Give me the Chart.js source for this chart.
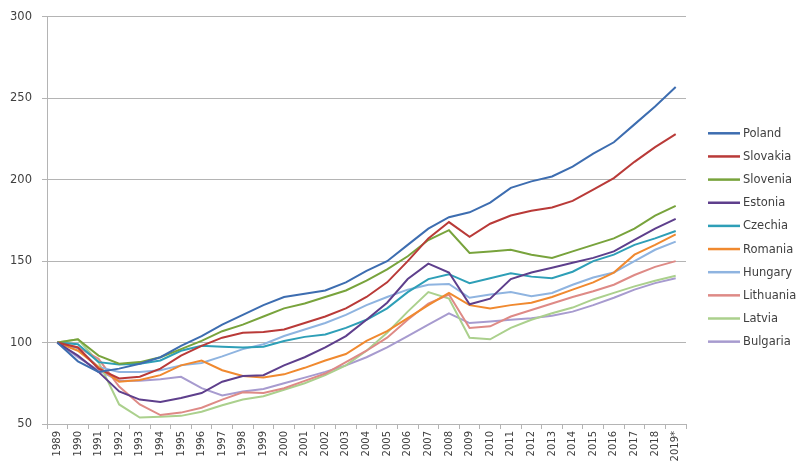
<!DOCTYPE html>
<html>
<head>
<meta charset="utf-8">
<script src="https://cdn.jsdelivr.net/npm/chart.js@4/dist/chart.umd.min.js"></script>
<style>
  html, body { margin: 0; padding: 0; background: #ffffff; }
  #wrap { width: 801px; height: 464px; position: relative; }
</style>
</head>
<body>
<div id="wrap"><canvas id="c" width="801" height="464"></canvas></div>
<script>
const years = ['1989','1990','1991','1992','1993','1994','1995','1996','1997','1998','1999','2000','2001','2002','2003','2004','2005','2006','2007','2008','2009','2010','2011','2012','2013','2014','2015','2016','2017','2018','2019*'];
const yTicks = [50, 100, 150, 200, 250, 300];
const countries = ['Poland','Slovakia','Slovenia','Estonia','Czechia','Romania','Hungary','Lithuania','Latvia','Bulgaria'];

const poland    = [100,88.5,82,84,87,91,98,104,111,117,123,128,130,132,137,144,150,160,170,177,180,186,195,199,202,208,216,223,234,245,257];
const slovakia  = [100,97,84,78,79,84,92,98,103,106,106.5,108,112,116,121,128,137,150,164,174,165,173,178,181,183,187,194,201,211,220,228];
const slovenia  = [100,102,92,87,88,91,96,101,107,111,116,121,124,128,132,138,145,153,163,169,155,156,157,154,152,156,160,164,170,178,184];
const estonia   = [100,92,82,70,65,63.5,66,69,76,79.5,80,86,91,97,104,114,124.5,139,148.5,143,123.5,127,139,143,146,149,152,156,163,170,176];
const czechia   = [100,99,88,86.5,87,89,95,98,97.5,97,97.5,101,103.5,105,109,114,121,131,139,142,136.5,139.5,142.5,140.5,139.5,143.5,150,154,160,164,168.5];
const romania   = [100,95,85,76,77,80,86,89,83,79.5,78.5,80.5,84.5,89,93,101,107,115,123,130.5,123,121,123,124.5,128,132.5,137,143,154,160,166.5];
const hungary   = [100,96.5,85,82,82,83,86,87.5,91.5,96,99,104,108,112,117,123,128,132.5,135.5,136,127.5,129.5,131,128.5,130.5,135.5,140,143,150,157,162];
const lithuania = [100,97,90,73,62,55.5,57,60,65,69.5,69,72,76.5,81,88,95,103,114,124,129.5,109,110,116,120,124,128,131.5,135.5,141.5,146.5,150];
const latvia    = [100,102,88,62,54,54.5,55,57.5,61.5,65,67,71,75,80,86,95,106,119,131,127,103,102,109,114,118,121.5,126.5,130.5,134.5,138,141];
const bulgaria  = [100,91,83,76.5,76.5,77.5,79,72,67.5,70,71.5,75,78.5,82,86,91,97,104,111,118,112,113,114,115,116.5,119,123,127.5,132.5,136.5,139.5];

const seriesValues = [poland, slovakia, slovenia, estonia, czechia, romania, hungary, lithuania, latvia, bulgaria];
const colors = ['#3D6DB0','#B93A38','#78A33C','#5E3F8C','#2E9FB7','#F0892F','#8FB4E0','#DE8A86','#ABD08D','#A79BCF'];

const FONT = '"DejaVu Sans", Verdana, sans-serif';
const TEXT = '#404040';
const GRID = '#b4b4b4';

const legendPlugin = {
  id: 'sideLegend',
  afterDraw(chart) {
    const ctx = chart.ctx;
    ctx.save();
    chart.data.datasets.forEach((ds, i) => {
      const y = 133.3 + i * 23.15;
      ctx.strokeStyle = ds.borderColor;
      ctx.lineWidth = 2.5;
      ctx.beginPath();
      ctx.moveTo(708, y);
      ctx.lineTo(740, y);
      ctx.stroke();
      ctx.fillStyle = TEXT;
      ctx.font = '11.5px ' + FONT;
      ctx.textBaseline = 'middle';
      ctx.textAlign = 'left';
      ctx.fillText(ds.label, 743, y + 0.5);
    });
    ctx.restore();
  }
};

new Chart(document.getElementById('c'), {
  type: 'line',
  data: {
    labels: years,
    datasets: countries.map((name, i) => ({
      label: name,
      data: seriesValues[i],
      borderColor: colors[i],
      backgroundColor: colors[i],
      borderWidth: 2,
      pointRadius: 0,
      pointHoverRadius: 0,
      tension: 0,
      fill: false
    }))
  },
  options: {
    responsive: false,
    animation: false,
    events: [],
    layout: { padding: { top: 15, right: 115, bottom: 0, left: 0 } },
    plugins: { legend: { display: false }, tooltip: { enabled: false } },
    scales: {
      x: {
        type: 'category',
        offset: true,
        grid: { offset: true, drawOnChartArea: false, drawTicks: true, tickLength: 5, color: GRID },
        border: { display: true, color: GRID, width: 1 },
        ticks: {
          autoSkip: false, maxRotation: 90, minRotation: 90,
          color: TEXT, font: { family: FONT, size: 10 }, padding: 2
        },
        afterFit(scale) { scale.height = 40; }
      },
      y: {
        min: 50, max: 300,
        afterBuildTicks(scale) { scale.ticks = yTicks.map(v => ({ value: v })); },
        grid: { color: GRID, lineWidth: 1, drawTicks: true, tickLength: 5 },
        border: { display: true, color: GRID, width: 1 },
        ticks: { color: TEXT, font: { family: FONT, size: 11.5 }, padding: 10 },
        afterFit(scale) { scale.width = 47; }
      }
    }
  },
  plugins: [legendPlugin]
});
</script>
</body>
</html>
